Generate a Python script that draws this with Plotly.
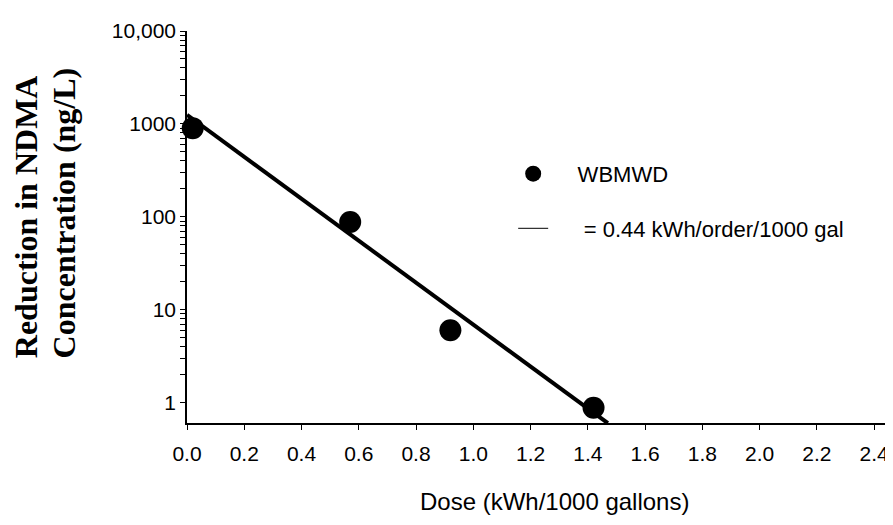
import plotly.graph_objects as go

# measured points
dose = [0.02, 0.57, 0.92, 1.42]
reduction = [900, 88, 6.0, 0.88]

# fitted line (0.44 kWh/order/1000 gal)
fit_dose = [0.0, 1.47]
fit_reduction = [1250, 0.6]

major_vals = [1, 10, 100, 1000, 10000]
major_text = ["1", "10", "100", "1000", "10,000"]
x_tickvals = [0.0, 0.2, 0.4, 0.6, 0.8, 1.0, 1.2, 1.4, 1.6, 1.8, 2.0, 2.2, 2.4]

# log ticks: labelled decades + unlabelled 2..9 in between
y_tickvals, y_ticktext = [], []
for v, t in zip(major_vals, major_text):
    y_tickvals.append(v)
    y_ticktext.append(t)
    if v < 10000:
        for m in range(2, 10):
            y_tickvals.append(v * m)
            y_ticktext.append("")

NB = '\u00a0'
serif = dict(family='Liberation Serif, Times New Roman', size=32)

fig = go.Figure()

fig.add_trace(go.Scatter(x=fit_dose, y=fit_reduction, mode='lines',
                         line=dict(color='black', width=4),
                         showlegend=False))
fig.add_trace(go.Scatter(x=dose, y=reduction, mode='markers',
                         marker=dict(color='black', size=22),
                         showlegend=False, cliponaxis=False))

# legend entries
fig.add_trace(go.Scatter(x=[None], y=[None], mode='markers',
                         name=NB * 4 + 'WBMWD',
                         marker=dict(color='black', size=22), legendgroup='a'))
fig.add_trace(go.Scatter(x=[None], y=[None], mode='lines',
                         name=NB * 5 + '= 0.44 kWh/order/1000 gal',
                         line=dict(color='black', width=1), legendgroup='b'))

fig.update_layout(
    width=885, height=517,
    margin=dict(l=179, r=0, t=23, b=102, autoexpand=False),
    plot_bgcolor='white', paper_bgcolor='white',
    font=dict(family='Liberation Sans, Arial', size=21, color='black'),
    legend=dict(x=0.462, y=0.689, xanchor='left', yanchor='top',
                tracegroupgap=23, font=dict(size=22),
                bgcolor='rgba(0,0,0,0)'),
    xaxis=dict(range=[0, 2.466], tickvals=x_tickvals, tickformat='.1f',
               automargin=False, ticklabelstandoff=6,
               showgrid=False, zeroline=False, showline=True,
               linecolor='black', linewidth=1.5, ticks='outside',
               ticklen=5, tickcolor='black'),
    yaxis=dict(type='log', range=[-0.22, 4.0], tickvals=y_tickvals,
               ticktext=y_ticktext, automargin=False,
               showgrid=False, zeroline=False,
               showline=True, linecolor='black', linewidth=1.5,
               ticks='outside', ticklen=5, tickcolor='black'),
    annotations=[
        dict(text='<b>Reduction in NDMA</b>', xref='paper', yref='paper',
             x=-0.228, y=0.525, xanchor='center', yanchor='middle',
             textangle=-90, showarrow=False, font=serif),
        dict(text='<b>Concentration (ng/L)</b>', xref='paper', yref='paper',
             x=-0.174, y=0.535, xanchor='center', yanchor='middle',
             textangle=-90, showarrow=False, font=serif),
        dict(text='Dose (kWh/1000 gallons)', xref='paper', yref='paper',
             x=0.521, y=-0.2, xanchor='center', yanchor='middle',
             showarrow=False, font=dict(size=24)),
    ],
)

fig.write_html("out.html")
